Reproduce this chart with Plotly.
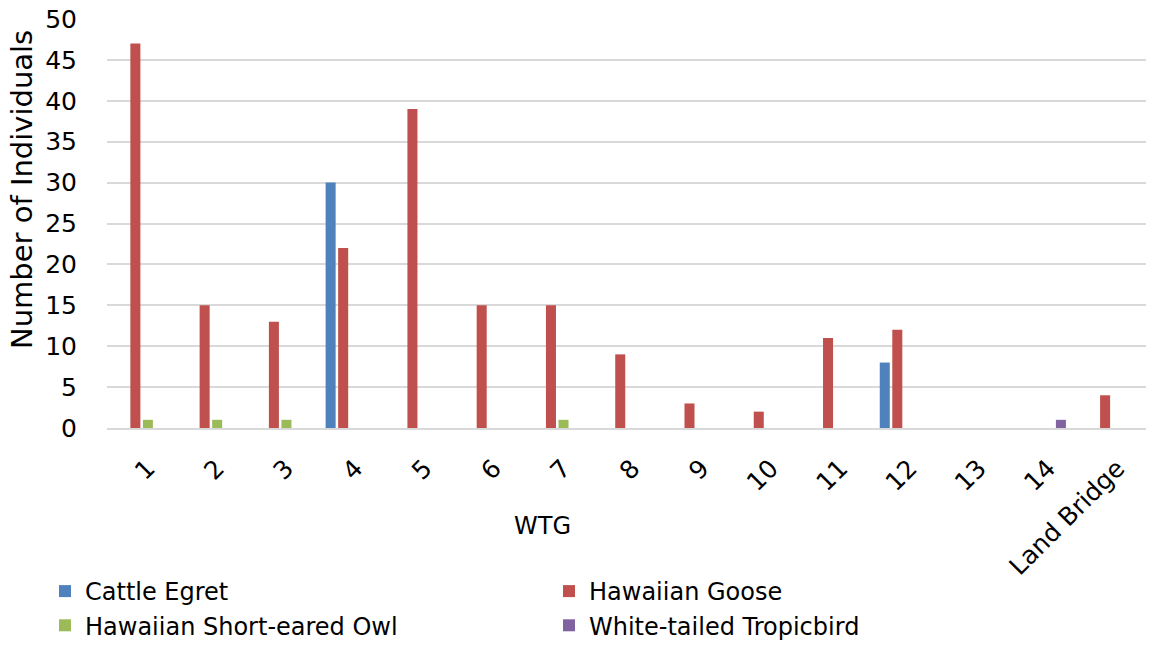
import plotly.graph_objects as go

# WTG locations and counts of individuals per species
wtg = ["1", "2", "3", "4", "5", "6", "7", "8", "9", "10", "11", "12", "13", "14", "Land Bridge"]
cattle_egret = [0, 0, 0, 30, 0, 0, 0, 0, 0, 0, 0, 8, 0, 0, 0]
hawaiian_goose = [47, 15, 13, 22, 39, 15, 15, 9, 3, 2, 11, 12, 0, 0, 4]
short_eared_owl = [1, 1, 1, 0, 0, 0, 1, 0, 0, 0, 0, 0, 0, 0, 0]
tropicbird = [0, 0, 0, 0, 0, 0, 0, 0, 0, 0, 0, 0, 0, 1, 0]
y_ticks = [0, 5, 10, 15, 20, 25, 30, 35, 40, 45, 50]

FONT = "DejaVu Sans"
W, H = 1161, 645
L, R, T, B = 107, 15, 19, 217

series = [
    ("Cattle Egret", cattle_egret, "#4F81BD"),
    ("Hawaiian Goose", hawaiian_goose, "#C0504D"),
    ("Hawaiian Short-eared Owl", short_eared_owl, "#9BBB59"),
    ("White-tailed Tropicbird", tropicbird, "#8064A2"),
]

fig = go.Figure()
for name, vals, color in series:
    fig.add_trace(go.Bar(
        x=wtg, y=vals, name=name,
        marker=dict(color=color, line=dict(width=0)),
    ))

fig.update_layout(
    width=W, height=H,
    paper_bgcolor="white", plot_bgcolor="white",
    margin=dict(l=L, r=R, t=T, b=B, autoexpand=False),
    barmode="group", bargap=0.276, bargroupgap=0.2,
    font=dict(family=FONT, size=24, color="#000000"),
    showlegend=True,
    legend=dict(
        orientation="h", xref="container", yref="container",
        x=45 / W, y=1 - 569 / H, xanchor="left", yanchor="top",
        entrywidth=459, entrywidthmode="pixels",
        font=dict(family=FONT, size=24, color="#000000"),
        traceorder="normal", tracegroupgap=0, itemsizing="constant",
        bgcolor="rgba(0,0,0,0)",
    ),
)

fig.update_xaxes(
    type="category", tickangle=-45, automargin=False,
    tickfont=dict(family=FONT, size=25),
    showgrid=False, showline=True, linecolor="#D9D9D9", linewidth=1.5,
    ticks="", ticklen=0, ticklabelstandoff=14, ticklabelshift=6,
)
fig.update_yaxes(
    range=[0, 50], tickvals=y_ticks, ticktext=[str(v) for v in y_ticks],
    automargin=False,
    tickfont=dict(family=FONT, size=25),
    showgrid=True, gridcolor="#D9D9D9", gridwidth=1.5,
    zeroline=False, showline=False, ticks="", ticklabelstandoff=29,
)

plot_w = W - L - R
plot_h = H - T - B

# Axis titles
fig.add_annotation(
    text="WTG", xref="paper", yref="paper",
    x=(542 - L) / plot_w, y=-(526 - (T + plot_h)) / plot_h,
    xanchor="center", yanchor="middle", showarrow=False,
    font=dict(family=FONT, size=24),
)
fig.add_annotation(
    text="Number of Individuals", xref="paper", yref="paper", textangle=-90,
    x=-(L - 22) / plot_w, y=((T + plot_h) - 190) / plot_h,
    xanchor="center", yanchor="middle", showarrow=False,
    font=dict(family=FONT, size=29),
)

fig.write_html("out.html")
